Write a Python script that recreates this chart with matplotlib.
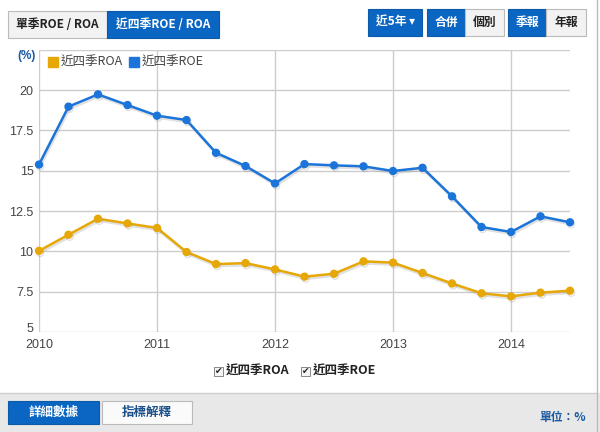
import matplotlib
matplotlib.use("Agg")
import matplotlib.pyplot as plt
import matplotlib.patheffects as pe
import matplotlib.transforms as mtransforms
from matplotlib.patches import Rectangle

CJK = ['Noto Sans CJK TC', 'DejaVu Sans']
plt.rcParams['font.family'] = ['Liberation Sans', 'Noto Sans CJK TC', 'DejaVu Sans']

# ---- data ----
quarters = ['2010Q1', '2010Q2', '2010Q3', '2010Q4',
            '2011Q1', '2011Q2', '2011Q3', '2011Q4',
            '2012Q1', '2012Q2', '2012Q3', '2012Q4',
            '2013Q1', '2013Q2', '2013Q3', '2013Q4',
            '2014Q1', '2014Q2', '2014Q3']
roe = [15.38, 18.97, 19.73, 19.07, 18.41, 18.14, 16.11, 15.29, 14.21, 15.41,
       15.33, 15.27, 14.98, 15.18, 13.41, 11.51, 11.20, 12.17, 11.80]
roa = [10.03, 11.03, 12.02, 11.73, 11.45, 9.96, 9.21, 9.27, 8.88, 8.43,
       8.61, 9.38, 9.30, 8.66, 8.01, 7.40, 7.21, 7.44, 7.56]
yticks = [5, 7.5, 10, 12.5, 15, 17.5, 20]
ytick_labels = ['5', '7.5', '10', '12.5', '15', '17.5', '20']
years = [2010, 2011, 2012, 2013, 2014]
roa_name = '近四季ROA'
roe_name = '近四季ROE'

x = [int(q[:4]) + (int(q[-1]) - 1) / 4 for q in quarters]

W, H = 600, 432
fig = plt.figure(figsize=(6, 4.32), dpi=100)
fig.patch.set_facecolor('white')

def fx(px):
    return px / W

def fy(py):
    return 1 - py / H

ax = fig.add_axes([fx(39), fy(332), fx(570) - fx(39), fy(49.7) - fy(332)])
ax.set_xlim(2010, 2014.5)
ax.set_ylim(5, 22.5)
for s in ax.spines.values():
    s.set_visible(False)
for yv in [5, 7.5, 10, 12.5, 15, 17.5, 20, 22.5]:
    ax.axhline(yv, color='#cccccc', lw=1, zorder=1)
for yr in years:
    ax.axvline(yr, color='#cccccc', lw=1, zorder=1)
ax.set_yticks(yticks)
ax.set_yticklabels(ytick_labels)
ax.set_xticks(years)
ax.set_xticklabels([str(y) for y in years])
ax.tick_params(length=0, labelsize=9, colors='#444444', pad=4)
ax.tick_params(axis='x', pad=5)
# lift the lowest y label a little, as in the reference
lbl5 = ax.get_yticklabels()[0]
lbl5.set_transform(lbl5.get_transform() + mtransforms.ScaledTranslation(0, 4 / 100, fig.dpi_scale_trans))

shadow = [pe.SimpleLineShadow(offset=(0.8, -1.5), shadow_color='#888888', alpha=0.25), pe.Normal()]
blue = '#1b74da'
orange = '#e6a707'
ax.plot(x, roe, color=blue, lw=1.8, marker='o', ms=5, zorder=3, path_effects=shadow, clip_on=False)
ax.plot(x, roa, color=orange, lw=1.8, marker='o', ms=5, zorder=3, path_effects=shadow, clip_on=False)

# in-chart legend
fig.patches.append(Rectangle((fx(48), fy(67)), fx(10), fy(57) - fy(67), color=orange, transform=fig.transFigure))
fig.text(fx(61), fy(62), roa_name, fontsize=9, color='#444444', va='center', ha='left', family=CJK)
fig.patches.append(Rectangle((fx(129), fy(67)), fx(10), fy(57) - fy(67), color=blue, transform=fig.transFigure))
fig.text(fx(142), fy(62), roe_name, fontsize=9, color='#444444', va='center', ha='left', family=CJK)

fig.text(fx(27), fy(56), '(%)', fontsize=8.5, color='#1a5aa0', fontweight='bold', ha='center', va='center')

# top buttons
def button(x0, x1, y0, y1, label, bg, fg, fs=8.5, border='#bbbbbb'):
    fig.patches.append(Rectangle((fx(x0), fy(y1)), fx(x1 - x0), fy(y0) - fy(y1),
                                 facecolor=bg, edgecolor=border, lw=0.8, transform=fig.transFigure))
    fig.text(fx((x0 + x1) / 2), fy((y0 + y1) / 2), label, fontsize=fs, color=fg, fontweight='bold',
             ha='center', va='center', family=CJK)

button(8, 107, 11, 38, '單季ROE / ROA', '#f2f2f2', '#222222')
button(107, 219, 11, 38, '近四季ROE / ROA', '#0a66c2', 'white', border='#0a5aa8')
button(368, 422, 9, 36, '近5年 ▾', '#0a66c2', 'white', border='#0a5aa8')
button(427, 465, 9, 36, '合併', '#0a66c2', 'white', border='#0a5aa8')
button(465, 504, 9, 36, '個別', '#f2f2f2', '#222222')
button(508, 546, 9, 36, '季報', '#0a66c2', 'white', border='#0a5aa8')
button(546, 586, 9, 36, '年報', '#f2f2f2', '#222222')

# checkbox legend
def checkbox(px, py, label):
    fig.patches.append(Rectangle((fx(px), fy(py + 5)), fx(9), fy(py - 4) - fy(py + 5),
                                 facecolor='#f4f4f4', edgecolor='#888888', lw=0.7, transform=fig.transFigure))
    fig.text(fx(px + 4.8), fy(py + 0.5), '✔', fontsize=6.5, color='#222222', ha='center', va='center',
             family=['DejaVu Sans'])
    fig.text(fx(px + 12), fy(py + 0.5), label, fontsize=9, color='#222222', ha='left', va='center',
             family=CJK, fontweight='bold')

checkbox(214, 371, roa_name)
checkbox(301, 371, roe_name)

# bottom bar
fig.patches.append(Rectangle((0, 0), 1, fy(393), facecolor='#e8e8e8', edgecolor='none', transform=fig.transFigure))
fig.lines.append(plt.Line2D([0, fx(597)], [fy(393), fy(393)], color='#cfcfcf', lw=1, transform=fig.transFigure))
button(8, 99, 401, 424, '詳細數據', '#0a66c2', 'white', fs=9, border='#0a5aa8')
button(102, 192, 401, 424, '指標解釋', '#fafafa', '#1b4f8a', fs=9, border='#bbbbbb')
fig.text(fx(586), fy(417), '單位：%', fontsize=8.5, color='#1b5a9f', fontweight='bold', ha='right', va='center',
         family=CJK)

# right border
fig.lines.append(plt.Line2D([fx(597), fx(597)], [0, 1], color='#bbbbbb', lw=1, transform=fig.transFigure))

fig.savefig('out.png', dpi=100)
